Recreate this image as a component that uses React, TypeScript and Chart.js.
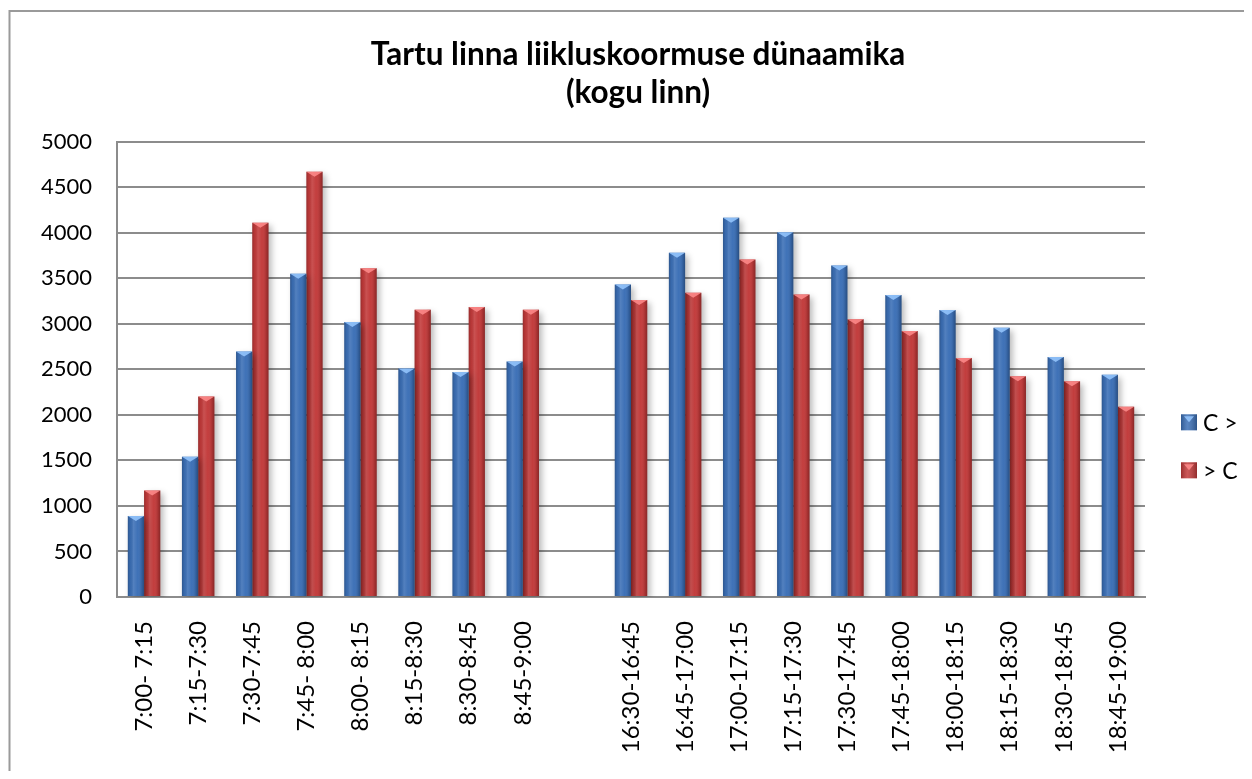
import React, { useEffect, useRef } from "react";
import { Chart, registerables, layouts } from "chart.js";

Chart.register(...registerables);

const categories = [
  "7:00- 7:15", "7:15-7:30", "7:30-7:45", "7:45- 8:00", "8:00- 8:15", "8:15-8:30", "8:30-8:45", "8:45-9:00",
  "",
  "16:30-16:45", "16:45-17:00", "17:00-17:15", "17:15-17:30", "17:30-17:45", "17:45-18:00",
  "18:00-18:15", "18:15-18:30", "18:30-18:45", "18:45-19:00",
];

const seriesA = [890, 1540, 2695, 3550, 3020, 2510, 2470, 2585, null,
  3430, 3780, 4165, 4005, 3640, 3315, 3150, 2955, 2635, 2440];
const seriesB = [1170, 2200, 4110, 4670, 3610, 3155, 3185, 3155, null,
  3260, 3340, 3705, 3320, 3050, 2920, 2625, 2425, 2370, 2090];

const seriesLabels = ["C >", "> C"];
const titleLines = ["Tartu linna liikluskoormuse dünaamika", "(kogu linn)"];
const yTicks = { min: 0, max: 5000, step: 500 };

const BLUE = "#3b6fb6";
const RED = "#c23a3a";
const GRID = "#8c8c8c";
const FONT = "Lato, 'Open Sans', sans-serif";
const LEGEND_SPACE = 99;

const borderPlugin = {
  id: "outerBorder",
  beforeDraw(chart: any) {
    const ctx = chart.ctx;
    ctx.save();
    ctx.strokeStyle = "#9a9a9a";
    ctx.lineWidth = 2;
    ctx.beginPath();
    ctx.moveTo(chart.width, 3);
    ctx.lineTo(1.5, 3);
    ctx.lineTo(1.5, chart.height);
    ctx.stroke();
    ctx.restore();
  },
};

const legendSpacePlugin = {
  id: "legendSpace",
  beforeInit(chart: any) {
    const box: any = {
      position: "right",
      fullSize: false,
      weight: 10,
      options: { position: "right", fullSize: false, weight: 10 },
      width: LEGEND_SPACE,
      height: 0,
      left: 0, top: 0, right: 0, bottom: 0,
      update(maxWidth: number, maxHeight: number) {
        this.width = LEGEND_SPACE;
        this.height = maxHeight;
      },
      isHorizontal() { return false; },
      getPadding() { return { left: 0, right: 0, top: 0, bottom: 0 }; },
      draw() {},
    };
    layouts.addBox(chart, box);
  },
};

const shadePlugin = {
  id: "barShade",
  beforeDatasetsDraw(chart: any) {
    const ctx = chart.ctx;
    ctx.save();
    ctx.shadowColor = "rgba(0,0,0,0.28)";
    ctx.shadowBlur = 6;
    ctx.shadowOffsetX = 3;
    ctx.shadowOffsetY = 3;
  },
  afterDatasetsDraw(chart: any) {
    const ctx = chart.ctx;
    ctx.restore();
    ctx.save();
    chart.data.datasets.forEach((ds: any, di: number) => {
      const meta = chart.getDatasetMeta(di);
      meta.data.forEach((bar: any, i: number) => {
        if (ds.data[i] == null) return;
        const { x, y, base, width } = bar.getProps(["x", "y", "base", "width"], true);
        const left = x - width / 2;
        const g = ctx.createLinearGradient(left, 0, left + width, 0);
        g.addColorStop(0, "rgba(0,0,0,0.22)");
        g.addColorStop(0.15, "rgba(0,0,0,0.05)");
        g.addColorStop(0.35, "rgba(255,255,255,0.12)");
        g.addColorStop(0.6, "rgba(255,255,255,0.02)");
        g.addColorStop(0.85, "rgba(0,0,0,0.12)");
        g.addColorStop(1, "rgba(0,0,0,0.3)");
        ctx.fillStyle = g;
        ctx.fillRect(left, y, width, base - y);
        ctx.fillStyle = di === 0 ? "rgba(150,200,255,0.85)" : "rgba(255,140,140,0.85)";
        ctx.beginPath();
        ctx.moveTo(left, y);
        ctx.lineTo(left + width, y);
        ctx.lineTo(x, y + 5);
        ctx.closePath();
        ctx.fill();
      });
    });
    ctx.restore();
  },
};

const legendPlugin = {
  id: "sideLegend",
  afterDraw(chart: any) {
    const ctx = chart.ctx;
    const area = chart.chartArea;
    const titleBottom = chart.titleBlock ? chart.titleBlock.bottom : area.top;
    const cy = (titleBottom + chart.height) / 2 - 10;
    const gap = 48;
    const box = 16;
    const n = chart.data.datasets.length;
    ctx.save();
    ctx.font = `23px ${FONT}`;
    ctx.textBaseline = "middle";
    ctx.fillStyle = "#000";
    chart.data.datasets.forEach((ds: any, i: number) => {
      const yc = cy + (i - (n - 1) / 2) * gap;
      const bx = area.right + 36;
      ctx.fillStyle = ds.backgroundColor;
      ctx.fillRect(bx, yc - box / 2, box, box);
      const g = ctx.createLinearGradient(bx, 0, bx + box, 0);
      g.addColorStop(0, "rgba(0,0,0,0.2)");
      g.addColorStop(0.4, "rgba(255,255,255,0.15)");
      g.addColorStop(1, "rgba(0,0,0,0.25)");
      ctx.fillStyle = g;
      ctx.fillRect(bx, yc - box / 2, box, box);
      ctx.fillStyle = i === 0 ? "rgba(150,200,255,0.85)" : "rgba(255,140,140,0.85)";
      ctx.beginPath();
      ctx.moveTo(bx + 3, yc - box / 2 + 2);
      ctx.lineTo(bx + box - 3, yc - box / 2 + 2);
      ctx.lineTo(bx + box / 2, yc);
      ctx.closePath();
      ctx.fill();
      ctx.fillStyle = "#000";
      ctx.fillText(ds.label, bx + box + 6, yc + 1);
    });
    ctx.restore();
  },
};

export default function App() {
  const ref = useRef<HTMLCanvasElement | null>(null);
  useEffect(() => {
    if (!ref.current) return;
    const chart = new Chart(ref.current, {
      type: "bar",
      data: {
        labels: categories,
        datasets: [
          { label: seriesLabels[0], data: seriesA as any, backgroundColor: BLUE, borderWidth: 0 },
          { label: seriesLabels[1], data: seriesB as any, backgroundColor: RED, borderWidth: 0 },
        ],
      },
      options: {
        animation: false,
        responsive: true,
        maintainAspectRatio: false,
        layout: { padding: { left: 24, right: 0, top: 0, bottom: 0 } },
        datasets: { bar: { categoryPercentage: 0.6, barPercentage: 1.0 } },
        plugins: {
          legend: { display: false },
          tooltip: { enabled: false },
          title: {
            display: true,
            text: titleLines,
            color: "#000",
            font: { family: FONT, size: 31.5, weight: "bold", lineHeight: 1.2 },
            padding: { top: 28, bottom: 30 },
          },
        },
        scales: {
          x: {
            grid: { display: false, drawTicks: false },
            border: { display: true, color: GRID, width: 2 },
            ticks: {
              autoSkip: false,
              minRotation: 90,
              maxRotation: 90,
              padding: 24,
              color: "#000",
              font: { family: FONT, size: 24 },
            },
            afterFit(scale: any) {
              scale.height = 174;
            },
          },
          y: {
            min: yTicks.min,
            max: yTicks.max,
            grid: { color: GRID, lineWidth: 2, drawTicks: false },
            border: { display: true, color: GRID, width: 2 },
            ticks: {
              stepSize: yTicks.step,
              padding: 25,
              color: "#000",
              font: { family: FONT, size: 22 },
              callback: (v: any) => String(v),
            },
            afterFit(scale: any) {
              scale.width = 85;
            },
          },
        },
      },
      plugins: [legendSpacePlugin, borderPlugin, shadePlugin, legendPlugin],
    });
    return () => chart.destroy();
  }, []);
  return (
    <div style={{ width: 1236, height: 763, position: "relative" }}>
      <canvas ref={ref} />
    </div>
  );
}
